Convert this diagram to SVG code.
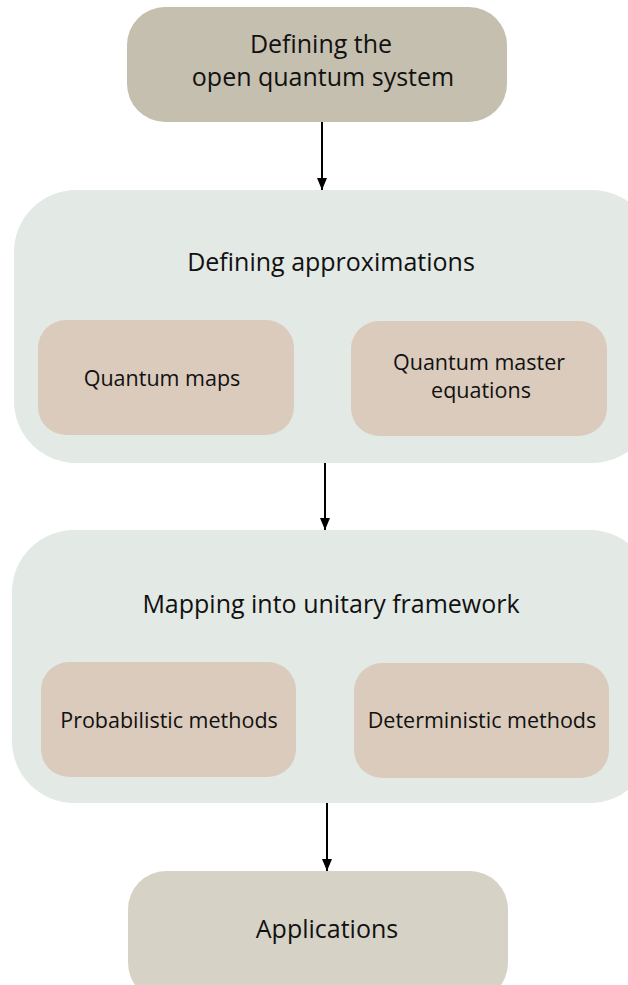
<svg xmlns="http://www.w3.org/2000/svg" width="628" height="985" viewBox="0 0 628 985">
<style>
text{font-family:"Open Sans","Liberation Sans",sans-serif;fill:#111;text-anchor:middle}
.t{font-size:25px}
.s{font-size:21.5px}
.big{fill:#e3e9e4}
.inner{fill:#dacbbc}
.conn{stroke:#000;stroke-width:2;fill:none}
</style>
<defs>
<marker id="ah" markerWidth="12" markerHeight="10" refX="12" refY="5" orient="auto" markerUnits="userSpaceOnUse">
<path d="M0,0 L12,5 L0,10 Z" fill="#000"/>
</marker>
</defs>
<g id="top">
<rect x="127" y="7" width="380" height="115" rx="38" fill="#c4bfae"/>
<text class="t" x="321" y="53">Defining the</text>
<text class="t" x="323" y="86">open quantum system</text>
</g>
<g id="approx">
<rect class="big" x="14" y="190" width="640" height="273" rx="62"/>
<text class="t" x="331" y="271">Defining approximations</text>
</g>
<g id="maps">
<rect class="inner" x="38" y="320" width="256" height="115" rx="28"/>
<text class="s" x="162" y="386">Quantum maps</text>
</g>
<g id="master">
<rect class="inner" x="351" y="321" width="256" height="115" rx="28"/>
<text class="s" x="479" y="370">Quantum master</text>
<text class="s" x="481" y="398">equations</text>
</g>
<g id="mapping">
<rect class="big" x="12" y="530" width="640" height="273" rx="62"/>
<text class="t" x="331" y="613">Mapping into unitary framework</text>
</g>
<g id="prob">
<rect class="inner" x="41" y="662" width="255" height="115" rx="28"/>
<text class="s" x="169" y="728">Probabilistic methods</text>
</g>
<g id="det">
<rect class="inner" x="354" y="663" width="255" height="115" rx="28"/>
<text class="s" x="482" y="728">Deterministic methods</text>
</g>
<g id="apps">
<rect x="128" y="871" width="380" height="130" rx="38" fill="#d6d2c6"/>
<text class="t" x="327" y="938">Applications</text>
</g>
<g id="connectors">
<line class="conn" x1="322" y1="122" x2="322" y2="190" marker-end="url(#ah)"/>
<line class="conn" x1="325" y1="463" x2="325" y2="530" marker-end="url(#ah)"/>
<line class="conn" x1="327" y1="803" x2="327" y2="871" marker-end="url(#ah)"/>
</g>
</svg>
